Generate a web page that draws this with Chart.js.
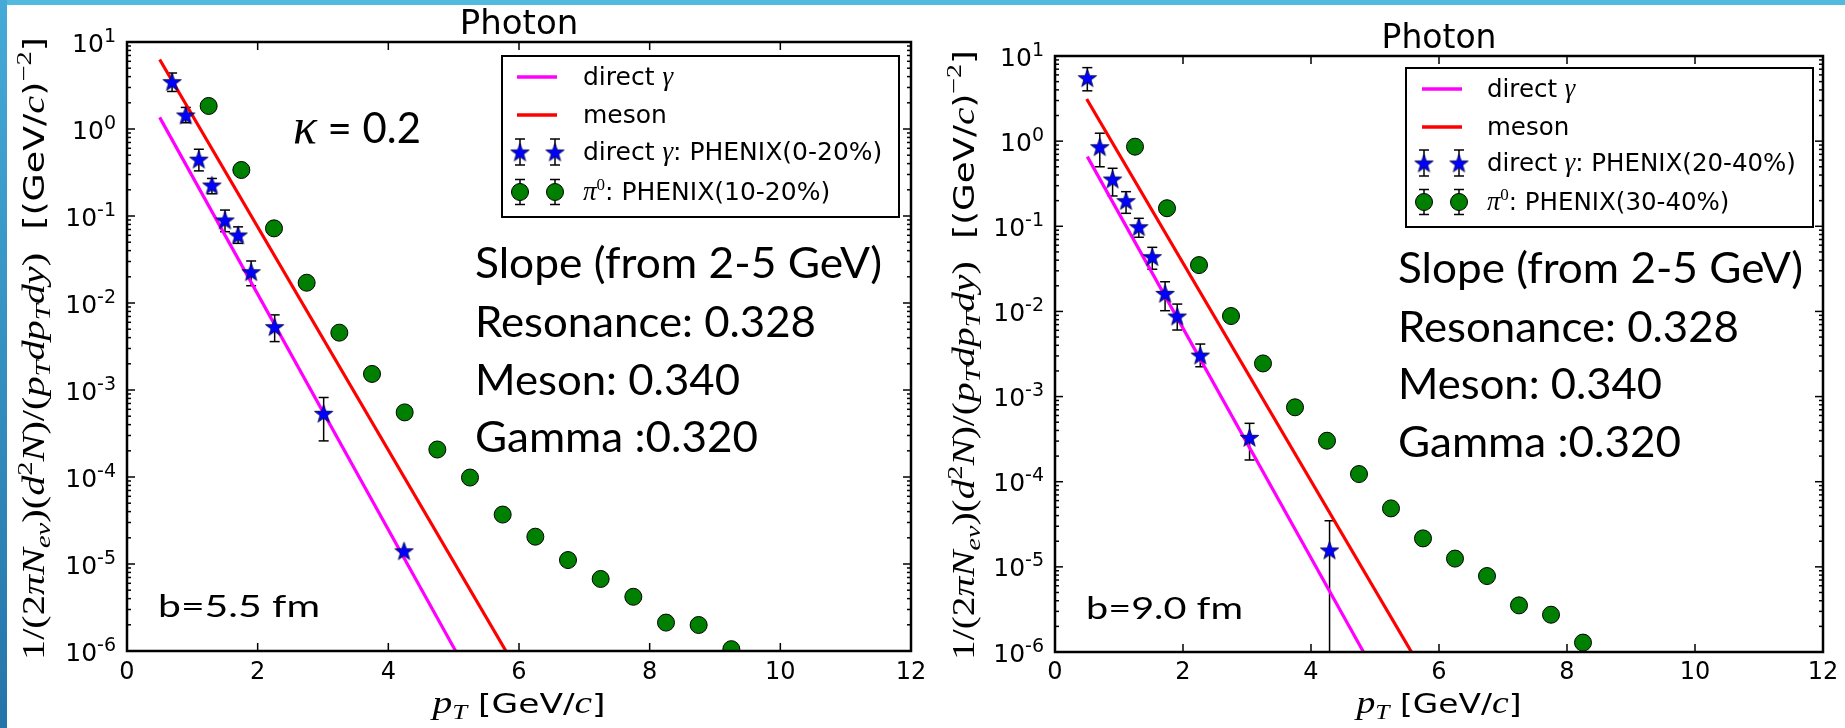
<!DOCTYPE html>
<html>
<head>
<meta charset="utf-8">
<script src="https://cdn.jsdelivr.net/npm/chart.js@4.4.0/dist/chart.umd.min.js"></script>
<style>
html, body { margin: 0; padding: 0; background: #fff; width: 1845px; height: 728px; overflow: hidden; }
#topbar { position: absolute; left: 0; top: 0; width: 1845px; height: 5px; background: #52bbdd; z-index: 2; }
#sidebar { position: absolute; left: 0; top: 0; width: 7px; height: 728px; background: linear-gradient(#45aad8, #2474aa); z-index: 2; }
canvas { position: absolute; top: 0; }
#left { left: 0; }
#right { left: 930px; }
</style>
</head>
<body>
<div id="topbar"></div>
<div id="sidebar"></div>
<canvas id="left" width="930" height="728"></canvas>
<canvas id="right" width="915" height="728"></canvas>
<script>
// Values

// left panel, b = 5.5 fm
const L_GAMMA_PT = [0.69, 0.90, 1.10, 1.30, 1.50, 1.70, 1.90, 2.26, 3.01, 4.24];
const L_GAMMA_Y  = [3.5, 1.45, 0.45, 0.227, 0.090, 0.0605, 0.0229, 0.00535, 5.4e-4, 1.42e-5];
const L_GAMMA_HI = [4.4, 1.77, 0.585, 0.27, 0.117, 0.075, 0.0304, 0.0073, 8.2e-4, 1.42e-5];
const L_GAMMA_LO = [2.7, 1.18, 0.33, 0.18, 0.066, 0.0485, 0.0158, 0.0036, 2.6e-4, 1.42e-5];
const L_PI0_PT   = [1.25, 1.75, 2.25, 2.75, 3.25, 3.75, 4.25, 4.75, 5.25, 5.75, 6.25, 6.75, 7.25, 7.75, 8.25, 8.75, 9.25];
const L_PI0_Y    = [1.84, 0.338, 0.0721, 0.0171, 0.00456, 1.53e-3, 5.53e-4, 2.07e-4, 9.86e-5, 3.7e-5, 2.06e-5, 1.11e-5, 6.73e-6, 4.2e-6, 2.12e-6, 1.99e-6, 1.05e-6];
const L_DIRECT_PT = [0.50, 5.03];
const L_DIRECT_Y  = [1.36, 1e-6];
const L_MESON_PT  = [0.50, 5.80];
const L_MESON_Y   = [6.3, 1e-6];

// right panel, b = 9.0 fm
const R_GAMMA_PT = [0.505, 0.70, 0.90, 1.11, 1.31, 1.52, 1.72, 1.91, 2.27, 3.04, 4.29];
const R_GAMMA_Y  = [5.56, 0.86, 0.359, 0.20, 0.0988, 0.044, 0.0163, 0.00883, 0.00307, 3.32e-4, 1.58e-5];
const R_GAMMA_HI = [7.3, 1.24, 0.48, 0.255, 0.124, 0.0566, 0.0223, 0.0122, 0.00414, 4.85e-4, 3.48e-5];
const R_GAMMA_LO = [3.9, 0.50, 0.227, 0.142, 0.0743, 0.0313, 0.0102, 0.00605, 0.00224, 1.8e-4, 1e-8];
const R_PI0_PT   = [1.25, 1.75, 2.25, 2.75, 3.25, 3.75, 4.25, 4.75, 5.25, 5.75, 6.25, 6.75, 7.25, 7.75, 8.25];
const R_PI0_Y    = [0.861, 0.163, 0.035, 0.00883, 0.00245, 7.48e-4, 3.03e-4, 1.23e-4, 4.86e-5, 2.16e-5, 1.25e-5, 7.8e-6, 3.53e-6, 2.74e-6, 1.29e-6];
const R_DIRECT_PT = [0.505, 4.82];
const R_DIRECT_Y  = [0.658, 1e-6];
const R_MESON_PT  = [0.495, 5.57];
const R_MESON_Y   = [3.13, 1e-6];

// axes and labels
const X_TICKS = [0, 2, 4, 6, 8, 10, 12];
const Y_EXPONENTS = [-6, -5, -4, -3, -2, -1, 0, 1];
const SLOPE_LINES = ['Slope (from 2-5 GeV)', 'Resonance: 0.328', 'Meson: 0.340', 'Gamma :0.320'];
const GAMMA_CENT = ['0-20%', '20-40%'];
const PI0_CENT = ['10-20%', '30-40%'];
const IMPACT = ['b=5.5 fm', 'b=9.0 fm'];

const SANS = '"DejaVu Sans"';
const MATH = '"Liberation Serif"';
const SLIDE = 'Lato';

// filled five point star used as marker
function makeStar(size) {
    const c = document.createElement('canvas');
    c.width = size; c.height = size;
    const g = c.getContext('2d');
    const R = size / 2 - 0.8, r = R * 0.4, m = size / 2;
    g.beginPath();
    for (let i = 0; i < 10; i++) {
        const rad = i % 2 === 0 ? R : r;
        const a = -Math.PI / 2 + i * Math.PI / 5;
        g.lineTo(m + rad * Math.cos(a), m + 1 + rad * Math.sin(a));
    }
    g.closePath();
    g.fillStyle = '#0000ff';
    g.fill();
    g.lineWidth = 0.8;
    g.strokeStyle = '#00003a';
    g.stroke();
    return c;
}
const STAR = makeStar(21);

// draw a row of differently styled text pieces, optionally stretched to a width
function drawRich(ctx, segs, x, y, align, fitWidth) {
    let w = 0;
    segs.forEach(s => { ctx.font = s.font; s.w = ctx.measureText(s.t).width; w += s.w; });
    const sx = fitWidth ? fitWidth / w : 1;
    ctx.save();
    ctx.translate(x, y);
    ctx.scale(sx, 1);
    let cx = align === 'center' ? -w / 2 : align === 'right' ? -w : 0;
    ctx.textAlign = 'left';
    ctx.textBaseline = 'alphabetic';
    ctx.fillStyle = '#000';
    segs.forEach(s => { ctx.font = s.font; ctx.fillText(s.t, cx, s.dy || 0); cx += s.w; });
    ctx.restore();
}
const M = (t, it = true, dy = 0, size = 27) => ({ t, font: (it ? 'italic ' : '') + size + 'px ' + MATH, dy });
const S = (t, size = 25, dy = 0) => ({ t, font: size + 'px ' + SANS, dy });

function line(ctx, x1, y1, x2, y2) {
    ctx.beginPath(); ctx.moveTo(x1, y1); ctx.lineTo(x2, y2); ctx.stroke();
}

const photonPlugin = {
    id: 'photon',
    beforeDatasetsDraw(chart, args, o) {
        const ctx = chart.ctx, xs = chart.scales.x, ys = chart.scales.y, a = chart.chartArea;
        ctx.save();
        ctx.beginPath();
        ctx.rect(a.left, a.top, a.right - a.left, a.bottom - a.top);
        ctx.clip();
        ctx.strokeStyle = '#000';
        ctx.lineWidth = 1.5;
        o.errX.forEach((v, i) => {
            if (o.errHi[i] === o.errLo[i]) return;
            const px = xs.getPixelForValue(v);
            const p1 = ys.getPixelForValue(o.errHi[i]);
            const p2 = ys.getPixelForValue(o.errLo[i]);
            line(ctx, px, p1, px, p2);
            line(ctx, px - 5, p1, px + 5, p1);
            line(ctx, px - 5, p2, px + 5, p2);
        });
        ctx.restore();
    },
    afterDraw(chart, args, o) {
        const ctx = chart.ctx, xs = chart.scales.x, ys = chart.scales.y;
        const { left, right, top, bottom } = chart.chartArea;
        ctx.save();
        ctx.strokeStyle = '#000';
        ctx.fillStyle = '#000';

        // frame and inward ticks
        ctx.lineWidth = 1.5;
        X_TICKS.forEach(v => {
            const px = xs.getPixelForValue(v);
            line(ctx, px, bottom, px, bottom - 8);
            line(ctx, px, top, px, top + 8);
            ctx.font = '24px ' + SANS;
            ctx.textAlign = 'center';
            ctx.fillText(String(v), px, 679);
        });
        Y_EXPONENTS.forEach(e => {
            const py = ys.getPixelForValue(Math.pow(10, e));
            line(ctx, left, py, left + 8, py);
            line(ctx, right, py, right - 8, py);
            drawRich(ctx, [S('10', 25), S(String(e), 19, -10)], left - 11, py + 9.5, 'right');
            if (e < 1) {
                for (let m = 2; m <= 9; m++) {
                    const pm = ys.getPixelForValue(m * Math.pow(10, e));
                    line(ctx, left, pm, left + 4, pm);
                    line(ctx, right, pm, right - 4, pm);
                }
            }
        });
        ctx.lineWidth = 2.5;
        ctx.strokeRect(left, top, right - left, bottom - top);

        // title
        ctx.font = o.titleSize + 'px ' + SANS;
        ctx.textAlign = 'center';
        ctx.fillText('Photon', (left + right) / 2, o.titleY);

        // axis titles
        drawRich(ctx, [M('p', true, 0, 31), M('T', true, 6, 21), S(' [GeV/', 27), M('c', true, 0, 31), S(']', 27)],
            (left + right) / 2, 713, 'center', o.xLabelW);
        ctx.save();
        ctx.translate(o.yLabelX, o.yLabelCY);
        ctx.rotate(-Math.PI / 2);
        drawRich(ctx, [
            M('1/(2', false, 0, 31), M('π', true, 0, 31), M('N', true, 0, 31), M('ev', true, 6, 22), M(')(', false, 0, 31),
            M('d', true, 0, 31), M('2', false, -12, 22), M('N', true, 0, 31), M(')/(', false, 0, 31),
            M('p', true, 0, 31), M('T', true, 6, 22), M('dp', true, 0, 31), M('T', true, 6, 22), M('dy', true, 0, 31),
            M(')', false, 0, 31),
            S('  [(GeV/', 28), M('c', true, 0, 31), S(')', 28), M('\u22122', false, -13, 22), S(']', 28)
        ], 0, 0, 'center', o.yLabelLen);
        ctx.restore();

        // legend
        const lg = o.legend;
        ctx.fillStyle = '#fff';
        ctx.fillRect(lg.x1, lg.y1, lg.x2 - lg.x1, lg.y2 - lg.y1);
        ctx.lineWidth = 2;
        ctx.strokeStyle = '#000';
        ctx.strokeRect(lg.x1, lg.y1, lg.x2 - lg.x1, lg.y2 - lg.y1);
        ctx.lineWidth = 3.5;
        ctx.strokeStyle = '#ff00ff';
        line(ctx, lg.h1, lg.rows[0], lg.h2, lg.rows[0]);
        ctx.strokeStyle = '#ff0000';
        line(ctx, lg.h1, lg.rows[1], lg.h2, lg.rows[1]);
        ctx.strokeStyle = '#000';
        ctx.lineWidth = 1.5;
        lg.marks.forEach(mx => {
            [2, 3].forEach(r => {
                const cy = lg.rows[r], h = r === 2 ? 13 : 12.5;
                line(ctx, mx, cy - h, mx, cy + h);
                line(ctx, mx - 5, cy - h, mx + 5, cy - h);
                line(ctx, mx - 5, cy + h, mx + 5, cy + h);
            });
            ctx.drawImage(STAR, mx - STAR.width / 2, lg.rows[2] - STAR.height / 2);
            ctx.beginPath();
            ctx.arc(mx, lg.rows[3], 8.5, 0, Math.PI * 2);
            ctx.fillStyle = '#008000';
            ctx.fill();
            ctx.lineWidth = 1;
            ctx.stroke();
            ctx.lineWidth = 1.5;
        });
        const fs = lg.font;
        drawRich(ctx, [S('direct ', fs), M('γ', true, 0, fs + 2)], lg.tx, lg.rows[0] + 8, 'left');
        drawRich(ctx, [S('meson', fs)], lg.tx, lg.rows[1] + 8, 'left');
        drawRich(ctx, [S('direct ', fs), M('γ', true, 0, fs + 2), S(': PHENIX(' + o.gammaCent + ')', fs)], lg.tx, lg.rows[2] + 8, 'left');
        drawRich(ctx, [M('π', true, 0, fs + 2), M('0', false, -10, 17), S(': PHENIX(' + o.pi0Cent + ')', fs)], lg.tx, lg.rows[3] + 8, 'left');

        // slide annotations
        SLOPE_LINES.forEach((t, i) => {
            drawRich(ctx, [{ t, font: '42px ' + SLIDE }], o.notes.x, o.notes.y[i], 'left', o.notes.w[i]);
        });
        drawRich(ctx, [{ t: o.impact, font: '30px ' + SLIDE }], o.impactX, o.impactY, 'left', o.impactW);
        if (o.kappa) {
            drawRich(ctx, [M('κ', true, 0, 50), { t: ' = 0.2', font: '42px ' + SLIDE }], 293, 143, 'left', 128);
        }
        ctx.restore();
    }
};

function makeChart(id, d, o) {
    const canvas = document.getElementById(id);
    const W = canvas.width, H = canvas.height;
    const pts = (xs, ys) => xs.map((x, i) => ({ x, y: ys[i] }));
    return new Chart(canvas.getContext('2d'), {
        type: 'scatter',
        data: {
            datasets: [
                { label: 'direct γ: PHENIX', data: pts(d.gx, d.gy), pointStyle: STAR, pointRadius: 10, clip: 0 },
                { label: 'π0: PHENIX', data: pts(d.px, d.py), pointStyle: 'circle', pointRadius: 8.5,
                  backgroundColor: '#008000', borderColor: '#000', borderWidth: 1, clip: 0 },
                { label: 'direct γ', data: pts(d.dx, d.dy), showLine: true, borderColor: '#ff00ff',
                  borderWidth: 3.2, pointRadius: 0, clip: 0 },
                { label: 'meson', data: pts(d.mx, d.my), showLine: true, borderColor: '#ff0000',
                  borderWidth: 3.2, pointRadius: 0, clip: 0 }
            ]
        },
        options: {
            responsive: false,
            animation: false,
            devicePixelRatio: 1,
            layout: { autoPadding: false, padding: { left: 0, top: o.area.top, right: W - o.area.right, bottom: 0 } },
            plugins: {
                legend: { display: false },
                tooltip: { enabled: false },
                photon: Object.assign({ errX: d.gx, errHi: d.ghi, errLo: d.glo }, o)
            },
            scales: {
                x: {
                    type: 'linear', min: 0, max: 12,
                    grid: { display: false, drawTicks: false }, border: { display: false }, ticks: { display: false },
                    afterFit: s => { s.height = H - o.area.bottom; }
                },
                y: {
                    type: 'logarithmic', min: 1e-6, max: 10,
                    grid: { display: false, drawTicks: false }, border: { display: false }, ticks: { display: false },
                    afterFit: s => { s.width = o.area.left; }
                }
            }
        },
        plugins: [photonPlugin]
    });
}

makeChart('left',
    { gx: L_GAMMA_PT, gy: L_GAMMA_Y, ghi: L_GAMMA_HI, glo: L_GAMMA_LO, px: L_PI0_PT, py: L_PI0_Y,
      dx: L_DIRECT_PT, dy: L_DIRECT_Y, mx: L_MESON_PT, my: L_MESON_Y },
    {
        area: { left: 127, right: 911, top: 42, bottom: 651 },
        titleSize: 34, titleY: 34,
        xLabelW: 173, yLabelX: 44, yLabelCY: 348.5, yLabelLen: 623,
        legend: { x1: 502, x2: 899, y1: 56, y2: 217, rows: [77, 115, 152, 192], h1: 517, h2: 557, marks: [520, 555], tx: 583, font: 25 },
        gammaCent: GAMMA_CENT[0], pi0Cent: PI0_CENT[0],
        notes: { x: 475, y: [278, 337, 395, 452], w: [407, 341, 265, 283] },
        impact: IMPACT[0], impactX: 158, impactY: 617, impactW: 162,
        kappa: true
    });

makeChart('right',
    { gx: R_GAMMA_PT, gy: R_GAMMA_Y, ghi: R_GAMMA_HI, glo: R_GAMMA_LO, px: R_PI0_PT, py: R_PI0_Y,
      dx: R_DIRECT_PT, dy: R_DIRECT_Y, mx: R_MESON_PT, my: R_MESON_Y },
    {
        area: { left: 125, right: 893, top: 56, bottom: 652 },
        titleSize: 33, titleY: 48,
        xLabelW: 165, yLabelX: 44, yLabelCY: 355, yLabelLen: 610,
        legend: { x1: 476, x2: 883, y1: 68, y2: 227, rows: [89, 127, 163, 202], h1: 492, h2: 532, marks: [494, 529], tx: 557, font: 24.5 },
        gammaCent: GAMMA_CENT[1], pi0Cent: PI0_CENT[1],
        notes: { x: 468, y: [283, 342, 399, 457], w: [405, 341, 264, 283] },
        impact: IMPACT[1], impactX: 156, impactY: 619, impactW: 157,
        kappa: false
    });
</script>
</body>
</html>
